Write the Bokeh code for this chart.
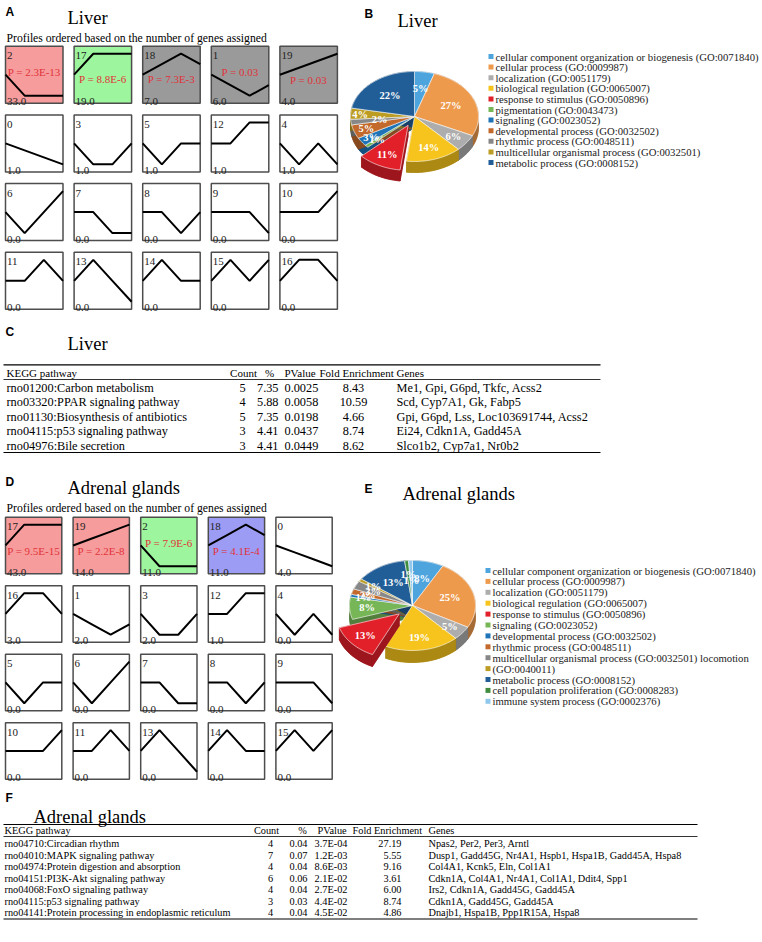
import numpy as np
from bokeh.plotting import figure
from bokeh.models import Range1d
from bokeh.embed import file_html
from bokeh.resources import INLINE
from bokeh.core.properties import value

# ---------------- data ----------------
# STEM model profiles (4 time points), read from the drawn shapes
profile_shapes = {
    0: [0, -1, -2, -3], 1: [0, -1, -2, -1], 2: [0, -1, -1, -1], 3: [0, -1, -1, 0],
    4: [0, -1, 0, -1], 5: [0, -1, 0, 0], 6: [0, -1, 0, 1], 7: [0, 0, -1, -1],
    8: [0, 0, -1, 0], 9: [0, 0, 0, -1], 10: [0, 0, 0, 1], 11: [0, 0, 1, 0],
    12: [0, 0, 1, 1], 13: [0, 1, 0, -1], 14: [0, 1, 0, 0], 15: [0, 1, 0, 1],
    16: [0, 1, 1, 0], 17: [0, 1, 1, 1], 18: [0, 1, 2, 1], 19: [0, 1, 2, 3],
}

liver_ids = [2, 17, 18, 1, 19, 0, 3, 5, 12, 4, 6, 7, 8, 9, 10, 11, 13, 14, 15, 16]
liver_counts = ["33.0", "19.0", "7.0", "6.0", "4.0", "1.0", "1.0", "1.0", "1.0", "1.0"] + ["0.0"] * 10
liver_pvals = ["P = 2.3E-13", "P = 8.8E-6", "P = 7.3E-3", "P = 0.03", "P = 0.03"] + [""] * 15
liver_groups = ["up", "down", "ns", "ns", "ns"] + ["none"] * 15

adrenal_ids = [17, 19, 2, 18, 0, 16, 1, 3, 12, 4, 5, 6, 7, 8, 9, 10, 11, 13, 14, 15]
adrenal_counts = ["43.0", "14.0", "11.0", "11.0", "4.0", "3.0", "2.0", "2.0", "1.0", "0.0"] + ["0.0"] * 10
adrenal_pvals = ["P = 9.5E-15", "P = 2.2E-8", "P = 7.9E-6", "P = 4.1E-4"] + [""] * 16
adrenal_groups = ["up", "up", "down", "other"] + ["none"] * 16

liver_go_terms = [
    "cellular component organization or biogenesis (GO:0071840)",
    "cellular process (GO:0009987)",
    "localization (GO:0051179)",
    "biological regulation (GO:0065007)",
    "response to stimulus (GO:0050896)",
    "pigmentation (GO:0043473)",
    "signaling (GO:0023052)",
    "developmental process (GO:0032502)",
    "rhythmic process (GO:0048511)",
    "multicellular organismal process (GO:0032501)",
    "metabolic process (GO:0008152)",
]
liver_go_pct = [5, 27, 6, 14, 11, 1, 3, 5, 2, 4, 22]

adrenal_go_terms = [
    "cellular component organization or biogenesis (GO:0071840)",
    "cellular process (GO:0009987)",
    "localization (GO:0051179)",
    "biological regulation (GO:0065007)",
    "response to stimulus (GO:0050896)",
    "signaling (GO:0023052)",
    "developmental process (GO:0032502)",
    "rhythmic process (GO:0048511)",
    "multicellular organismal process (GO:0032501) locomotion",
    "(GO:0040011)",
    "metabolic process (GO:0008152)",
    "cell population proliferation (GO:0008283)",
    "immune system process (GO:0002376)",
]
adrenal_go_pct = [8, 25, 5, 19, 13, 8, 1, 2, 3, 1, 13, 1, 1]

liver_kegg = ["rno01200:Carbon metabolism", "rno03320:PPAR signaling pathway",
              "rno01130:Biosynthesis of antibiotics", "rno04115:p53 signaling pathway",
              "rno04976:Bile secretion"]
liver_count = ["5", "4", "5", "3", "3"]
liver_pct = ["7.35", "5.88", "7.35", "4.41", "4.41"]
liver_pvalue = ["0.0025", "0.0058", "0.0198", "0.0437", "0.0449"]
liver_fold = ["8.43", "10.59", "4.66", "8.74", "8.62"]
liver_genes = ["Me1, Gpi, G6pd, Tkfc, Acss2", "Scd, Cyp7A1, Gk, Fabp5",
               "Gpi, G6pd, Lss, Loc103691744, Acss2", "Ei24, Cdkn1A, Gadd45A",
               "Slco1b2, Cyp7a1, Nr0b2"]

adrenal_kegg = ["rno04710:Circadian rhythm", "rno04010:MAPK signaling pathway",
                "rno04974:Protein digestion and absorption", "rno04151:PI3K-Akt signaling pathway",
                "rno04068:FoxO signaling pathway", "rno04115:p53 signaling pathway",
                "rno04141:Protein processing in endoplasmic reticulum"]
adrenal_count = ["4", "7", "4", "6", "4", "3", "4"]
adrenal_pct = ["0.04", "0.07", "0.04", "0.06", "0.04", "0.03", "0.04"]
adrenal_pvalue = ["3.7E-04", "1.2E-03", "8.6E-03", "2.1E-02", "2.7E-02", "4.4E-02", "4.5E-02"]
adrenal_fold = ["27.19", "5.55", "9.16", "3.61", "6.00", "8.74", "4.86"]
adrenal_genes = ["Npas2, Per2, Per3, Arntl",
                 "Dusp1, Gadd45G, Nr4A1, Hspb1, Hspa1B, Gadd45A, Hspa8",
                 "Col4A1, Kcnk5, Eln, Col1A1",
                 "Cdkn1A, Col4A1, Nr4A1, Col1A1, Ddit4, Spp1",
                 "Irs2, Cdkn1A, Gadd45G, Gadd45A",
                 "Cdkn1A, Gadd45G, Gadd45A",
                 "Dnajb1, Hspa1B, Ppp1R15A, Hspa8"]

# ---------------- styles ----------------
SERIF = "Liberation Serif"
SANS = "Liberation Sans"
GROUP_FILL = {"up": "#F79C9C", "down": "#9DF59D", "ns": "#9A9A9A", "other": "#9C9CF4", "none": "white"}
liver_colors = ["#4EA5DE", "#EE9A4D", "#ADADAD", "#F6C41C", "#E2202A", "#77B657",
                "#1E74B7", "#C2692B", "#878787", "#BC9C22", "#215E97"]
adrenal_colors = ["#4EA5DE", "#EE9A4D", "#ADADAD", "#F6C41C", "#E2202A", "#77B657",
                  "#1E74B7", "#C2692B", "#878787", "#BC9C22", "#215E97", "#3F8C3F", "#8FC8EC"]

W, H = 760, 940
p = figure(width=W, height=H, x_range=Range1d(0, W), y_range=Range1d(H, 0),
           output_backend="svg", toolbar_location=None, min_border=0,
           x_axis_location=None, y_axis_location=None)
p.grid.visible = False
p.outline_line_color = None


def txt(x, y, s, size, font=SERIF, color="black", align="left", baseline="alphabetic",
        style="normal", target=None):
    g = target if target is not None else p
    g.text(x=[x], y=[y], text=[s], text_font=value(font), text_font_size=f"{size}px",
           text_color=color, text_align=align, text_baseline=baseline, text_font_style=style)


def darker(c, f=0.7):
    c = c.lstrip("#")
    r, g, b = int(c[0:2], 16), int(c[2:4], 16), int(c[4:6], 16)
    return "#%02x%02x%02x" % (int(r * f), int(g * f), int(b * f))


def profile_panel(ids, counts, pvals, groups, col_left, row_top, w, h, p_dy):
    for k, pid in enumerate(ids):
        r, c = divmod(k, 5)
        L, T = col_left[c], row_top[r]
        p.quad(left=[L], right=[L + w], top=[T], bottom=[T + h],
               fill_color=GROUP_FILL[groups[k]], line_color="#4d4d4d", line_width=1.5)
        vals = np.array(profile_shapes[pid], dtype=float)
        m = max(1.0, np.abs(vals).max())
        sp = p.subplot(x_source=Range1d(0, len(vals) - 1), y_source=Range1d(-1.36 * m, 1.36 * m),
                       x_target=Range1d(L, L + w), y_target=Range1d(T + h, T))
        sp.line(x=list(range(len(vals))), y=vals.tolist(), line_color="black", line_width=2)
        txt(L + 1.5, T + 9.5, str(pid), 11, color="#222222")
        txt(L + 1.5, T + h - 1.5, counts[k], 11, color="#222222")
        if pvals[k]:
            txt(L + w / 2, T + p_dy[k], pvals[k], 11, color="#E0333A", align="center",
                baseline="middle")


def pie(cx, cy, rx, ry, depth, pcts, colors, lab_r, explode_idx, explode_off):
    sp = p.subplot(x_source=Range1d(-1, 1), y_source=Range1d(-1, 1),
                   x_target=Range1d(cx - rx, cx + rx), y_target=Range1d(cy + ry, cy - ry))
    fr = np.array(pcts, dtype=float)
    fr = fr / fr.sum()
    edges = np.concatenate([[0.0], np.cumsum(fr)])
    d = depth / ry
    groups = {False: [[], [], [], [], []], True: [[], [], [], [], []]}
    for i in range(len(fr)):
        a0 = np.pi / 2 - 2 * np.pi * edges[i]
        a1 = np.pi / 2 - 2 * np.pi * edges[i + 1]
        a = np.linspace(a0, a1, max(4, int(fr[i] * 240)))
        mid = (a0 + a1) / 2
        ex = (i == explode_idx)
        ox, oy = (explode_off * np.cos(mid), explode_off * np.sin(mid)) if ex else (0.0, 0.0)
        cxs, cys = ox + np.cos(a), oy + np.sin(a)
        g = groups[ex]
        side_col = darker(colors[i])
        g[0].append([ox] + list(cxs)); g[1].append([oy - d] + list(cys - d)); g[2].append(side_col)
        g[0].append(list(cxs) + list(cxs[::-1])); g[1].append(list(cys) + list(cys[::-1] - d)); g[2].append(side_col)
        for ae in (a0, a1):
            ex_, ey_ = ox + np.cos(ae), oy + np.sin(ae)
            g[0].append([ox, ex_, ex_, ox]); g[1].append([oy, ey_, ey_ - d, oy - d]); g[2].append(side_col)
        g[3].append(([ox] + list(cxs), [oy] + list(cys), colors[i]))
        g[4].append((ox + lab_r[i] * np.cos(mid), oy + lab_r[i] * np.sin(mid), f"{pcts[i]}%"))
    for ex in (False, True):
        g = groups[ex]
        if g[0]:
            sp.patches(xs=g[0], ys=g[1], fill_color=g[2], line_color=g[2], line_width=0.5)
            sp.patches(xs=[t[0] for t in g[3]], ys=[t[1] for t in g[3]],
                       fill_color=[t[2] for t in g[3]], line_color="white", line_width=0.6)
    labs = groups[False][4] + groups[True][4]
    sp.text(x=[t[0] for t in labs], y=[t[1] for t in labs], text=[t[2] for t in labs],
            text_font=value(SERIF), text_font_size="10.5px", text_font_style="bold",
            text_color="white", text_align="center", text_baseline="middle")


def legend(x, y0, dy, labels, colors, size):
    n = len(labels)
    ys = [y0 + i * dy for i in range(n)]
    p.rect(x=[x + 2.5] * n, y=ys, width=5, height=5, fill_color=colors, line_color=None)
    p.text(x=[x + 7] * n, y=ys, text=labels, text_font=value(SERIF), text_font_size=f"{size}px",
           text_color="#222222", text_align="left", text_baseline="middle")


def table(cols, nrows, x0, x1, y_top, y_head, y_mid, y_row0, dy, y_bot, size, hsize):
    p.segment(x0=[x0] * 3, x1=[x1] * 3, y0=[y_top, y_mid, y_bot], y1=[y_top, y_mid, y_bot],
              line_color="black", line_width=[1.2, 0.8, 1.2])
    sp = p.subplot(x_source=Range1d(0, 1), x_target=Range1d(0, 1),
                   y_source=Range1d(0, nrows - 1), y_target=Range1d(y_row0, y_row0 + (nrows - 1) * dy))
    for hx, halign, htext, vx, valign, vals in cols:
        txt(hx, y_head, htext, hsize, align=halign, baseline="middle")
        sp.text(x=[vx] * nrows, y=list(range(nrows)), text=vals, text_font=value(SERIF),
                text_font_size=f"{size}px", text_color="black", text_align=valign,
                text_baseline="middle")


# ---------------- Panel A ----------------
txt(5, 11, "A", 12, font=SANS, style="bold", baseline="middle")
txt(67, 17, "Liver", 18.5)
txt(6, 38.3, "Profiles ordered based on the number of genes assigned", 11.7)
profile_panel(liver_ids, liver_counts, liver_pvals, liver_groups,
              [5, 73.6, 142.2, 210.8, 279.4], [45.7, 114.4, 183.1, 251.8], 57.5, 57,
              [26, 32.5, 32.5, 26, 34])

# ---------------- Panel B ----------------
txt(364, 13, "B", 12, font=SANS, style="bold", baseline="middle")
txt(397, 20, "Liver", 18.5)
pie(414, 116, 64, 45, 11, liver_go_pct, liver_colors,
    [0.62, 0.62, 0.75, 0.72, 0.72, 0.78, 0.82, 0.8, 0.55, 0.85, 0.6], 4, 0.22)
legend(488, 56, 10.6, liver_go_terms, liver_colors, 10.7)

# ---------------- Panel C ----------------
txt(5, 331, "C", 12, font=SANS, style="bold", baseline="middle")
txt(67, 343, "Liver", 18.5)
table([(6, "left", "KEGG pathway", 6, "left", liver_kegg),
       (243, "center", "Count", 242, "center", liver_count),
       (269, "center", "%", 278, "right", liver_pct),
       (284, "left", "PValue", 284, "left", liver_pvalue),
       (319, "left", "Fold Enrichment", 353, "center", liver_fold),
       (396, "left", "Genes", 396, "left", liver_genes)],
      5, 3, 600, 364.3, 372, 379, 387, 14.6, 452, 12.3, 11)

# ---------------- Panel D ----------------
txt(5, 481, "D", 12, font=SANS, style="bold", baseline="middle")
txt(67, 487, "Adrenal glands", 18.5)
txt(6, 508.3, "Profiles ordered based on the number of genes assigned", 11.7)
profile_panel(adrenal_ids, adrenal_counts, adrenal_pvals, adrenal_groups,
              [5, 72.6, 140.2, 207.8, 275.4], [516.7, 585.2, 653.7, 722.2], 56.3, 56.5,
              [34, 34, 25.6, 34])

# ---------------- Panel E ----------------
txt(364, 488, "E", 12, font=SANS, style="bold", baseline="middle")
txt(402, 493, "Adrenal glands", 18.5)
pie(412, 605, 63, 45, 12, adrenal_go_pct, adrenal_colors,
    [0.62, 0.62, 0.75, 0.72, 0.72, 0.72, 0.8, 0.75, 0.7, 0.75, 0.6, 0.7, 0.55], 4, 0.28)
legend(485, 570, 10.9, adrenal_go_terms, adrenal_colors, 10.7)

# ---------------- Panel F ----------------
txt(5, 797, "F", 12, font=SANS, style="bold", baseline="middle")
txt(33, 816.5, "Adrenal glands", 18.5)
table([(4, "left", "KEGG pathway", 4, "left", adrenal_kegg),
       (266, "center", "Count", 270, "center", adrenal_count),
       (302, "center", "%", 307, "right", adrenal_pct),
       (317, "left", "PValue", 347, "right", adrenal_pvalue),
       (352, "left", "Fold Enrichment", 401, "right", adrenal_fold),
       (428, "left", "Genes", 428, "left", adrenal_genes)],
      7, 3, 697, 824, 830, 836, 843.3, 11.5, 918.5, 10.3, 10.3)

open("out.html", "w").write(file_html(p, INLINE))
